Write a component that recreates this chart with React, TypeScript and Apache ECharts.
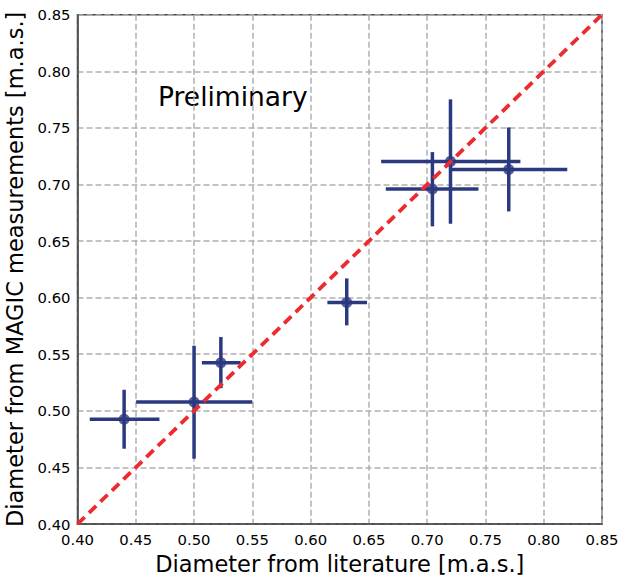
import React, { useEffect, useRef } from "react";
import * as echarts from "echarts";

const literature = [0.44, 0.5, 0.523, 0.631, 0.7045, 0.72, 0.77];
const literatureLow = [0.4105, 0.4503, 0.5067, 0.6144, 0.6645, 0.6605, 0.7205];
const literatureHigh = [0.4703, 0.55, 0.54, 0.6484, 0.744, 0.78, 0.8202];
const magic = [0.4925, 0.5078, 0.5425, 0.5958, 0.696, 0.7204, 0.7133];
const magicLow = [0.4665, 0.4577, 0.52, 0.5755, 0.663, 0.6653, 0.6762];
const magicHigh = [0.5186, 0.5575, 0.5652, 0.617, 0.7286, 0.7752, 0.7504];
const diagonal = [
  [0.4, 0.4],
  [0.85, 0.85],
];
const xTitle = "Diameter from literature [m.a.s.]";
const yTitle = "Diameter from MAGIC measurements [m.a.s.]";
const note = "Preliminary";

const NAVY = "#2b3a7f";
const RED = "#ee2a2e";
const FONT = "DejaVu Sans";

export default function App() {
  const ref = useRef<HTMLDivElement>(null);
  useEffect(() => {
    if (!ref.current) return;
    const chart = echarts.init(ref.current, undefined, { renderer: "svg" });
    const errData = literature.map((x, i) => [
      x,
      magic[i],
      literatureLow[i],
      literatureHigh[i],
      magicLow[i],
      magicHigh[i],
    ]);
    const axisCommon = {
      type: "value" as const,
      min: 0.4,
      max: 0.85,
      interval: 0.05,
      axisLine: { show: true, lineStyle: { color: "#444", width: 1.5 } },
      axisTick: { show: false },
      splitLine: {
        show: true,
        lineStyle: { color: "#b0b0b0", width: 1.5, type: [6, 3] },
      },
      nameTextStyle: { fontFamily: FONT, fontSize: 22.5, color: "#000" },
    };
    chart.setOption({
      animation: false,
      backgroundColor: "#fff",
      grid: {
        left: 77.5,
        top: 14.7,
        right: 16,
        bottom: 51,
        outerBoundsMode: "none",
        containLabel: false,
        show: true,
        borderColor: "#444",
        borderWidth: 1.5,
        backgroundColor: "transparent",
      },
      xAxis: {
        ...axisCommon,
        name: xTitle,
        nameLocation: "middle",
        nameGap: 28,
        axisLabel: {
          fontFamily: FONT,
          fontSize: 14.8,
          color: "#000",
          margin: 8,
          formatter: (v: number) => v.toFixed(2),
        },
      },
      yAxis: {
        ...axisCommon,
        name: yTitle,
        nameLocation: "middle",
        nameGap: 42,
        axisLabel: {
          fontFamily: FONT,
          fontSize: 14.8,
          color: "#000",
          margin: 7,
          formatter: (v: number) => v.toFixed(2),
        },
      },
      graphic: [
        {
          type: "text",
          left: 158,
          top: 83,
          style: {
            text: note,
            fontFamily: FONT,
            fontSize: 26.5,
            fill: "#000",
          },
        },
      ],
      series: [
        {
          type: "custom",
          data: errData,
          z: 2,
          renderItem: (params: any, api: any) => {
            const x = api.value(0);
            const y = api.value(1);
            const pL = api.coord([api.value(2), y]);
            const pR = api.coord([api.value(3), y]);
            const pB = api.coord([x, api.value(4)]);
            const pT = api.coord([x, api.value(5)]);
            const style = { stroke: NAVY, lineWidth: 3.5 };
            return {
              type: "group",
              children: [
                {
                  type: "line",
                  shape: { x1: pL[0], y1: pL[1], x2: pR[0], y2: pR[1] },
                  style,
                },
                {
                  type: "line",
                  shape: { x1: pB[0], y1: pB[1], x2: pT[0], y2: pT[1] },
                  style,
                },
              ],
            };
          },
        },
        {
          type: "scatter",
          data: literature.map((x, i) => [x, magic[i]]),
          symbol: "circle",
          symbolSize: 11,
          itemStyle: { color: NAVY },
          z: 3,
        },
        {
          type: "line",
          data: diagonal,
          symbol: "none",
          lineStyle: { color: RED, width: 3.8, type: [10, 6] },
          z: 4,
        },
      ],
    });
    return () => chart.dispose();
  }, []);
  return (
    <div
      ref={ref}
      style={{ position: "absolute", left: 0, top: 0, width: 618, height: 575 }}
    />
  );
}
